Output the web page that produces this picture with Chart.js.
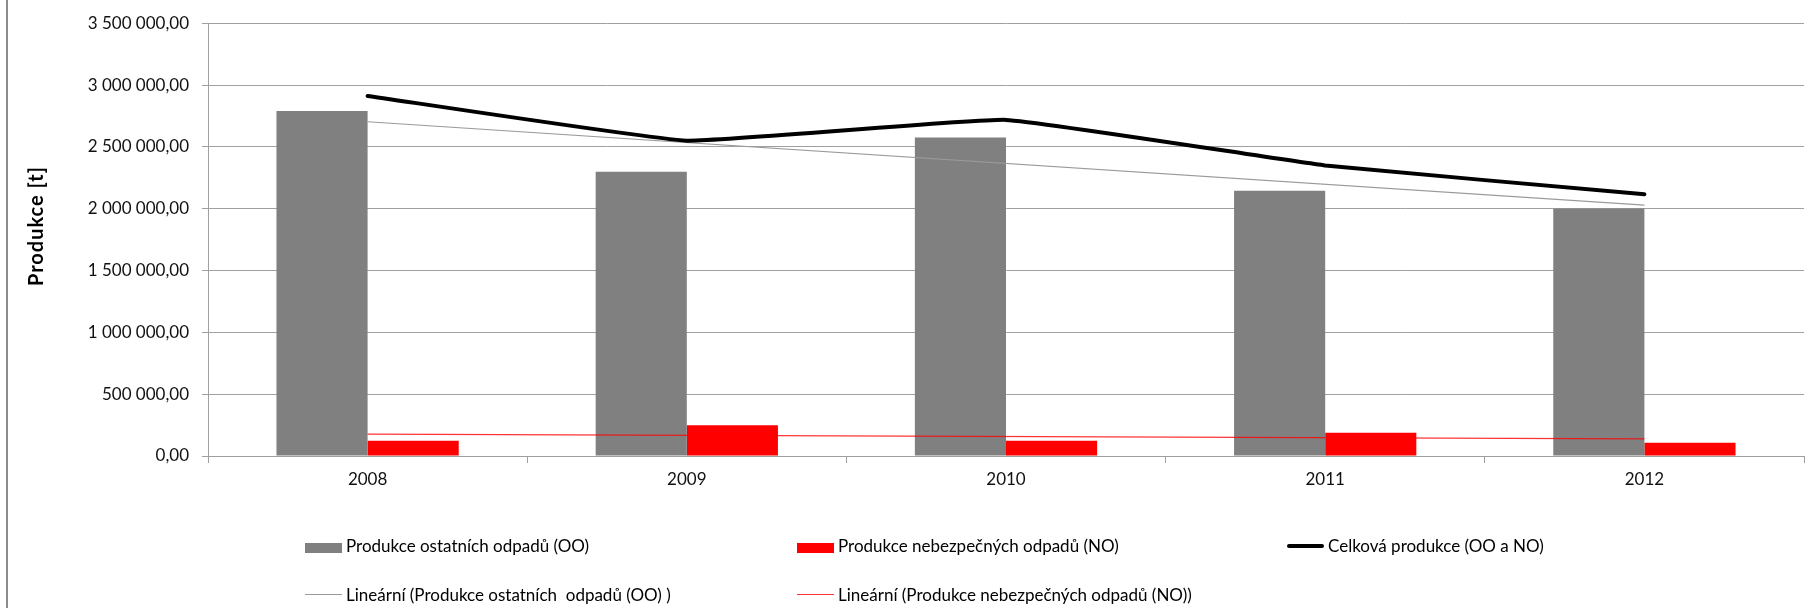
<!DOCTYPE html>
<html lang="cs">
<head>
<meta charset="utf-8">
<title>Produkce odpadů</title>
<script src="https://cdn.jsdelivr.net/npm/chart.js@4.4.1/dist/chart.umd.min.js"></script>
<style>
    html, body { margin: 0; padding: 0; background: #fff; }
    #wrap { position: relative; width: 1805px; height: 608px; overflow: hidden; }
    #frame { position: absolute; left: 6px; top: 0; width: 2px; height: 608px; background: #8c8c8c; }
    #c { position: absolute; left: 0; top: 0; }
    #legend {
        position: absolute; left: 305px; top: 535px;
        display: grid; grid-template-columns: 492px 490px 300px; grid-auto-rows: 49px;
        font: 17px Lato, sans-serif; color: #000;
    }
    .item { display: flex; align-items: center; white-space: pre; height: 21px; }
    .sw { width: 37px; margin-right: 4px; flex: none; }
</style>
</head>
<body>
<div id="wrap">
    <div id="frame"></div>
    <canvas id="c"></canvas>
    <div id="legend"></div>
</div>
<script>
// Data (tonnes)
const years = ['2008', '2009', '2010', '2011', '2012'];
const ostatni = [2789000, 2298000, 2576000, 2145000, 2002000];
const nebezpecne = [123000, 249000, 123000, 188000, 108000];
const celkem = [2912000, 2550000, 2718000, 2350000, 2117000];
// linear trend lines: only the two end points are read, the line spans the gaps
const trendOstatni = [2703000, null, null, null, 2029000];
const trendNebezpecne = [177000, null, null, null, 139000];

const seriesNames = [
    'Produkce ostatních odpadů (OO)',
    'Produkce nebezpečných odpadů (NO)',
    'Celková produkce (OO a NO)',
    'Lineární (Produkce ostatních  odpadů (OO) )',
    'Lineární (Produkce nebezpečných odpadů (NO))'
];
const yTitle = 'Produkce [t]';

const GRID = '#a0a0a0';
const FONT = 'Lato';

// 3500000 -> "3 500 000,00"
function fmt(v) {
    const s = String(Math.round(v)).replace(/\B(?=(\d{3})+(?!\d))/g, ' ');
    return s + ',00';
}

// y axis title, drawn where Excel put it (a bit above the plot centre)
const yTitlePlugin = {
    id: 'yTitle',
    afterDraw(chart) {
        const ctx = chart.ctx;
        ctx.save();
        ctx.translate(37, 226);
        ctx.rotate(-Math.PI / 2);
        ctx.font = 'bold 20px ' + FONT;
        if ('letterSpacing' in ctx) ctx.letterSpacing = '1px';
        ctx.fillStyle = '#000';
        ctx.textAlign = 'center';
        ctx.textBaseline = 'middle';
        ctx.fillText(yTitle, 0, 0);
        ctx.restore();
    }
};

const chart = new Chart(document.getElementById('c'), {
    type: 'bar',
    data: {
        labels: years,
        datasets: [
            {
                label: seriesNames[0],
                data: ostatni,
                backgroundColor: '#808080',
                categoryPercentage: 0.571,
                barPercentage: 1,
                order: 3
            },
            {
                label: seriesNames[1],
                data: nebezpecne,
                backgroundColor: '#ff0000',
                categoryPercentage: 0.571,
                barPercentage: 1,
                order: 3
            },
            {
                type: 'line',
                label: seriesNames[2],
                data: celkem,
                borderColor: '#000',
                borderWidth: 4,
                borderCapStyle: 'round',
                tension: 0.1,
                pointRadius: 0,
                fill: false,
                order: 1
            },
            {
                type: 'line',
                label: seriesNames[3],
                data: trendOstatni,
                borderColor: '#9a9a9a',
                borderWidth: 1.2,
                spanGaps: true,
                pointRadius: 0,
                fill: false,
                order: 2
            },
            {
                type: 'line',
                label: seriesNames[4],
                data: trendNebezpecne,
                borderColor: 'rgba(255, 0, 0, 0.8)',
                borderWidth: 1.2,
                spanGaps: true,
                pointRadius: 0,
                fill: false,
                order: 2
            }
        ]
    },
    options: {
        responsive: true,
        maintainAspectRatio: false,
        animation: false,
        layout: {
            padding: { top: 20, right: 1, left: 0, bottom: 0 }
        },
        plugins: {
            legend: { display: false },
            tooltip: { enabled: false }
        },
        scales: {
            x: {
                offset: true,
                grid: { drawOnChartArea: false, offset: true, tickLength: 7, color: GRID },
                border: { color: GRID },
                ticks: {
                    color: '#111',
                    font: { family: FONT, size: 17 },
                    padding: 6,
                    maxRotation: 0
                },
                afterFit(scale) { scale.height = 152; }
            },
            y: {
                min: 0,
                max: 3500000,
                grid: { color: GRID, tickLength: 6 },
                border: { color: GRID },
                ticks: {
                    stepSize: 500000,
                    color: '#111',
                    font: { family: FONT, size: 17 },
                    padding: 13,
                    callback: v => fmt(v)
                },
                afterFit(scale) { scale.width = 208; }
            }
        }
    },
    plugins: [yTitlePlugin]
});

// HTML legend laid out like the original (3 columns, 2 rows)
function buildLegend() {
    const box = document.getElementById('legend');
    chart.data.datasets.forEach(ds => {
        const item = document.createElement('div');
        item.className = 'item';
        const sw = document.createElement('span');
        sw.className = 'sw';
        if (ds.type === 'line') {
            sw.style.height = '0';
            sw.style.borderTop = ds.borderWidth + 'px solid ' + ds.borderColor;
            if (ds.borderWidth > 2) sw.style.borderRadius = '2px';
        } else {
            sw.style.height = '10px';
            sw.style.marginTop = '5px';
            sw.style.background = ds.backgroundColor;
        }
        item.appendChild(sw);
        item.appendChild(document.createTextNode(ds.label));
        box.appendChild(item);
    });
}
buildLegend();
</script>
</body>
</html>
